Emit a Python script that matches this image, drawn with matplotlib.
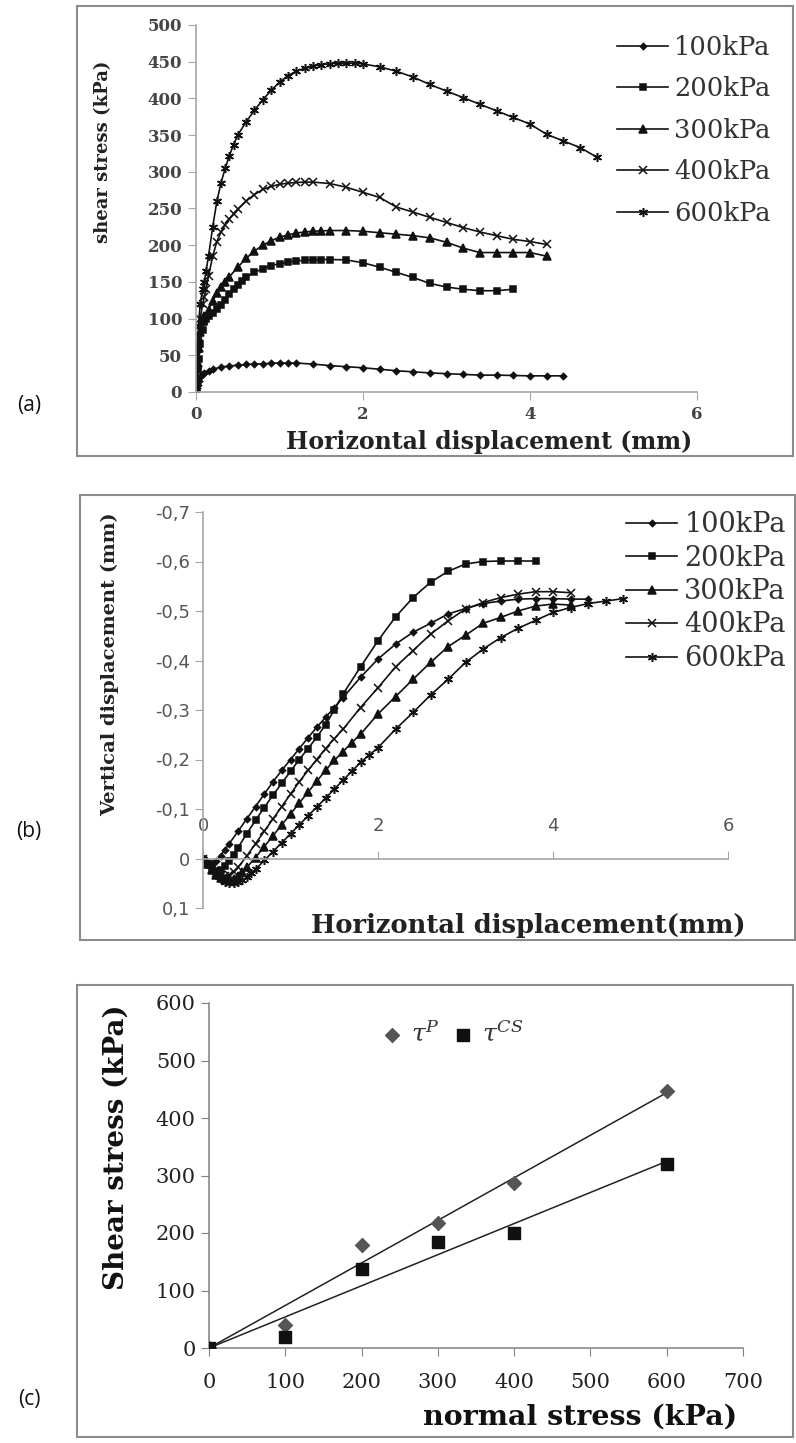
import numpy as np
import matplotlib
matplotlib.use('Agg')
import matplotlib.pyplot as plt
from matplotlib.patches import Rectangle
from matplotlib.ticker import FuncFormatter

# ==========================================
# DATOS
# ==========================================
PRESSURES = ['100kPa', '200kPa', '300kPa', '400kPa', '600kPa']

# (a) shear stress vs horizontal displacement
disp_a_100 = [0, 0.01, 0.02, 0.03, 0.05, 0.08, 0.1, 0.15, 0.2, 0.3, 0.4, 0.5, 0.6, 0.7, 0.8, 0.9, 1.0, 1.1, 1.2,
              1.4, 1.6, 1.8, 2.0, 2.2, 2.4, 2.6, 2.8, 3.0, 3.2, 3.4, 3.6, 3.8, 4.0, 4.2, 4.4]
shear_100 = [0, 5, 10, 15, 20, 24, 26, 29, 31, 34, 35.5, 36.5, 37.5, 38, 38.5, 39, 39.5, 39.5, 39.5,
             38, 36, 34.5, 33, 31, 29, 27.5, 26, 25, 24, 23, 23, 22.5, 22, 22, 22]
disp_a_200 = [0, 0.01, 0.02, 0.03, 0.05, 0.08, 0.1, 0.12, 0.15, 0.2, 0.25, 0.3, 0.35, 0.4, 0.45, 0.5, 0.55, 0.6,
              0.7, 0.8, 0.9, 1.0, 1.1, 1.2, 1.3, 1.4, 1.5, 1.6, 1.8, 2.0, 2.2, 2.4, 2.6, 2.8, 3.0, 3.2, 3.4, 3.6, 3.8]
shear_200 = [0, 15, 30, 45, 65, 85, 95, 100, 104, 108, 113, 119, 126, 133, 140, 146, 151, 156,
             163, 168, 172, 175, 177, 178.5, 179.5, 180, 180.5, 180.5, 180, 176, 170, 163, 156, 148, 143, 140, 138, 138, 140]
disp_a_300 = [0, 0.01, 0.02, 0.03, 0.05, 0.08, 0.1, 0.15, 0.2, 0.25, 0.3, 0.35, 0.4, 0.5, 0.6, 0.7, 0.8, 0.9, 1.0,
              1.1, 1.2, 1.3, 1.4, 1.5, 1.6, 1.8, 2.0, 2.2, 2.4, 2.6, 2.8, 3.0, 3.2, 3.4, 3.6, 3.8, 4.0, 4.2]
shear_300 = [0, 20, 40, 60, 82, 98, 104, 112, 124, 135, 143, 150, 157, 170, 182, 192, 200, 206, 211,
             214, 216.5, 218, 219, 219.5, 220, 220, 219, 217, 215, 213, 210, 204, 196, 190, 190, 190, 190, 185]
disp_a_400 = [0, 0.01, 0.02, 0.03, 0.05, 0.08, 0.1, 0.12, 0.15, 0.2, 0.25, 0.3, 0.35, 0.4, 0.45, 0.5, 0.6, 0.7, 0.8,
              0.9, 1.0, 1.1, 1.2, 1.3, 1.4, 1.6, 1.8, 2.0, 2.2, 2.4, 2.6, 2.8, 3.0, 3.2, 3.4, 3.6, 3.8, 4.0, 4.2]
shear_400 = [0, 25, 50, 75, 100, 120, 130, 140, 158, 185, 205, 218, 228, 236, 243, 249, 260, 269, 276,
             280, 283, 284.5, 285.5, 286, 286, 284, 279, 272, 265, 252, 245, 238, 231, 224, 218, 213, 208, 205, 201]
disp_a_600 = [0, 0.01, 0.02, 0.03, 0.05, 0.08, 0.1, 0.12, 0.15, 0.2, 0.25, 0.3, 0.35, 0.4, 0.45, 0.5, 0.6, 0.7, 0.8,
              0.9, 1.0, 1.1, 1.2, 1.3, 1.4, 1.5, 1.6, 1.7, 1.8, 1.9, 2.0, 2.2, 2.4, 2.6, 2.8, 3.0, 3.2, 3.4, 3.6, 3.8,
              4.0, 4.2, 4.4, 4.6, 4.8]
shear_600 = [0, 30, 60, 90, 120, 140, 150, 165, 185, 225, 260, 285, 305, 322, 337, 350, 368, 384, 398,
             411, 422, 431, 437, 441, 444, 446, 447, 448, 448, 448, 447, 443, 437, 429, 419, 410, 401, 392, 383, 374,
             365, 351, 342, 333, 320]

# (b) vertical vs horizontal displacement
disp_b_100 = [0, 0.05, 0.1, 0.15, 0.2, 0.25, 0.3, 0.4, 0.5, 0.6, 0.7, 0.8, 0.9, 1.0, 1.1, 1.2, 1.3, 1.4, 1.5, 1.6,
              1.8, 2.0, 2.2, 2.4, 2.6, 2.8, 3.0, 3.2, 3.4, 3.6, 3.8, 4.0, 4.2, 4.4]
vert_100 = [0, 0.008, 0.01, 0.005, -0.005, -0.018, -0.03, -0.055, -0.08, -0.105, -0.13, -0.155, -0.178, -0.2,
            -0.222, -0.244, -0.265, -0.285, -0.305, -0.325, -0.366, -0.403, -0.433, -0.457, -0.475, -0.494, -0.505,
            -0.515, -0.52, -0.524, -0.525, -0.525, -0.524, -0.524]
disp_b_200 = [0, 0.05, 0.1, 0.15, 0.2, 0.25, 0.3, 0.35, 0.4, 0.5, 0.6, 0.7, 0.8, 0.9, 1.0, 1.1, 1.2, 1.3, 1.4, 1.5,
              1.6, 1.8, 2.0, 2.2, 2.4, 2.6, 2.8, 3.0, 3.2, 3.4, 3.6, 3.8]
vert_200 = [0, 0.012, 0.022, 0.026, 0.024, 0.016, 0.005, -0.008, -0.022, -0.05, -0.077, -0.103, -0.128, -0.152,
            -0.176, -0.2, -0.222, -0.245, -0.27, -0.3, -0.332, -0.387, -0.44, -0.488, -0.527, -0.558, -0.58, -0.595,
            -0.6, -0.601, -0.601, -0.601]
disp_b_300 = [0, 0.05, 0.1, 0.15, 0.2, 0.25, 0.3, 0.35, 0.4, 0.45, 0.5, 0.6, 0.7, 0.8, 0.9, 1.0, 1.1, 1.2, 1.3, 1.4,
              1.5, 1.6, 1.7, 1.8, 2.0, 2.2, 2.4, 2.6, 2.8, 3.0, 3.2, 3.4, 3.6, 3.8, 4.0, 4.2]
vert_300 = [0, 0.012, 0.024, 0.033, 0.039, 0.042, 0.043, 0.041, 0.036, 0.028, 0.018, -0.002, -0.024, -0.046,
            -0.068, -0.09, -0.112, -0.134, -0.156, -0.178, -0.198, -0.216, -0.234, -0.251, -0.292, -0.327, -0.362,
            -0.396, -0.428, -0.451, -0.475, -0.487, -0.5, -0.51, -0.514, -0.512]
disp_b_400 = [0, 0.05, 0.1, 0.15, 0.2, 0.25, 0.3, 0.35, 0.4, 0.5, 0.6, 0.7, 0.8, 0.9, 1.0, 1.1, 1.2, 1.3, 1.4, 1.5,
              1.6, 1.8, 2.0, 2.2, 2.4, 2.6, 2.8, 3.0, 3.2, 3.4, 3.6, 3.8, 4.0, 4.2]
vert_400 = [0, 0.012, 0.022, 0.03, 0.034, 0.035, 0.033, 0.027, 0.018, -0.005, -0.03, -0.055, -0.08, -0.105,
            -0.13, -0.155, -0.178, -0.2, -0.222, -0.242, -0.261, -0.305, -0.345, -0.387, -0.42, -0.453, -0.48,
            -0.504, -0.517, -0.527, -0.534, -0.539, -0.539, -0.537]
disp_b_600 = [0, 0.05, 0.1, 0.15, 0.2, 0.25, 0.3, 0.35, 0.4, 0.45, 0.5, 0.55, 0.6, 0.7, 0.8, 0.9, 1.0, 1.1, 1.2,
              1.3, 1.4, 1.5, 1.6, 1.7, 1.8, 1.9, 2.0, 2.2, 2.4, 2.6, 2.8, 3.0, 3.2, 3.4, 3.6, 3.8, 4.0, 4.2, 4.4,
              4.6, 4.8]
vert_600 = [0, 0.012, 0.024, 0.034, 0.042, 0.047, 0.05, 0.05, 0.048, 0.044, 0.038, 0.03, 0.022, 0.004, -0.014,
            -0.032, -0.05, -0.068, -0.086, -0.104, -0.122, -0.14, -0.158, -0.176, -0.194, -0.209, -0.224, -0.261,
            -0.295, -0.33, -0.362, -0.396, -0.423, -0.446, -0.465, -0.481, -0.497, -0.507, -0.515, -0.52, -0.525]

# (c) failure envelopes
normal_stress = [0, 100, 200, 300, 400, 600]
tau_peak = [0, 40, 180, 218, 287, 447]
tau_cs = [0, 20, 138, 185, 200, 320]

# ==========================================
# ESTILO
# ==========================================
W, H = 796, 1443
plt.rcParams['font.family'] = 'DejaVu Serif'
plt.rcParams['mathtext.fontset'] = 'dejavuserif'

MARKERS = ['D', 's', '^', 'x', (6, 2, 0)]
MSIZE = [3.2, 4.5, 5.5, 5.5, 6.5]
AX_GRAY = '#a6a6a6'
BOX_GRAY = '#8c8c8c'


def px_rect(l, t, r, b):
    return [l / W, 1 - b / H, (r - l) / W, (b - t) / H]


def fx(x):
    return x / W


def fy(y):
    return 1 - y / H


fig = plt.figure(figsize=(W / 100, H / 100), dpi=100)
fig.patch.set_facecolor('white')

for (l, t, r, b) in [(77, 6, 793, 456), (80, 495, 795, 940), (77, 985, 793, 1437)]:
    fig.add_artist(Rectangle((fx(l), fy(b)), (r - l) / W, (b - t) / H, transform=fig.transFigure,
                             fill=False, ec=BOX_GRAY, lw=1.5))

for lbl, ypos in [('(a)', 405), ('(b)', 832), ('(c)', 1400)]:
    fig.text(fx(29), fy(ypos), lbl, ha='center', va='center', fontsize=15, family='Open Sans', color='#111')

# ---------- (a) ----------
ax_a = fig.add_axes(px_rect(196, 25, 697, 392))
series_a = [(disp_a_100, shear_100), (disp_a_200, shear_200), (disp_a_300, shear_300),
            (disp_a_400, shear_400), (disp_a_600, shear_600)]
handles_a = []
for i, (xs, ys) in enumerate(series_a):
    ln, = ax_a.plot(xs, ys, color='#111', lw=1.2, marker=MARKERS[i], ms=MSIZE[i], mew=1.1, label=PRESSURES[i])
    handles_a.append(ln)
ax_a.set_xlim(0, 6)
ax_a.set_ylim(0, 500)
ax_a.set_xticks([0, 2, 4, 6])
ax_a.set_yticks(np.arange(0, 501, 50))
for s in ['top', 'right']:
    ax_a.spines[s].set_visible(False)
for s in ['left', 'bottom']:
    ax_a.spines[s].set_color(AX_GRAY)
    ax_a.spines[s].set_linewidth(1.2)
ax_a.tick_params(direction='out', length=6, color=AX_GRAY, labelcolor='#444', labelsize=12, pad=4)
for t in ax_a.get_xticklabels() + ax_a.get_yticklabels():
    t.set_fontweight('bold')
ax_a.legend(handles=handles_a, loc='upper left', bbox_to_anchor=(fx(617), fy(35)), bbox_transform=fig.transFigure,
            frameon=False, borderpad=0, borderaxespad=0, handlelength=2.0, handletextpad=0.22,
            labelspacing=0.64, prop={'size': 18.5}, labelcolor='#333')
fig.text(fx(103), fy(152), 'shear stress (kPa)', rotation=90, ha='center', va='center',
         fontsize=13, fontweight='bold', color='#222')
fig.text(fx(489), fy(442), 'Horizontal displacement (mm)', ha='center', va='center',
         fontsize=17, fontweight='bold', color='#222')

# ---------- (b) ----------
ax_b = fig.add_axes(px_rect(203, 512, 728, 908))
series_b = [(disp_b_100, vert_100), (disp_b_200, vert_200), (disp_b_300, vert_300),
            (disp_b_400, vert_400), (disp_b_600, vert_600)]
handles_b = []
for i, (xs, ys) in enumerate(series_b):
    ln, = ax_b.plot(xs, ys, color='#111', lw=1.2, marker=MARKERS[i], ms=MSIZE[i], mew=1.1, label=PRESSURES[i])
    handles_b.append(ln)
ax_b.set_xlim(0, 6)
ax_b.set_ylim(0.1, -0.7)
ax_b.set_xticks([0, 2, 4, 6])
ax_b.set_yticks(np.round(np.arange(-0.7, 0.11, 0.1), 1))
ax_b.yaxis.set_major_formatter(FuncFormatter(lambda v, p: '0' if abs(v) < 1e-9 else f'{v:.1f}'.replace('.', ',')))
ax_b.spines['right'].set_visible(False)
ax_b.spines['bottom'].set_visible(False)
ax_b.spines['top'].set_position(('data', 0))
ax_b.xaxis.tick_top()
for s in ['left', 'top']:
    ax_b.spines[s].set_color(AX_GRAY)
    ax_b.spines[s].set_linewidth(1.2)
ax_b.tick_params(direction='out', length=6, color=AX_GRAY, labelcolor='#555', labelsize=13)
ax_b.tick_params(axis='x', pad=11)
for t in ax_b.get_xticklabels() + ax_b.get_yticklabels():
    t.set_family('DejaVu Sans')
ax_b.legend(handles=handles_b, loc='upper left', bbox_to_anchor=(fx(626), fy(511)), bbox_transform=fig.transFigure,
            frameon=False, borderpad=0, borderaxespad=0, handlelength=1.9, handletextpad=0.25,
            labelspacing=0.24, prop={'size': 19.5}, labelcolor='#333')
fig.text(fx(110), fy(664), 'Vertical displacement (mm)', rotation=90, ha='center', va='center',
         fontsize=14, fontweight='bold', color='#222')
fig.text(fx(528), fy(925), 'Horizontal displacement(mm)', ha='center', va='center',
         fontsize=18.5, fontweight='bold', color='#222')

# ---------- (c) ----------
ax_c = fig.add_axes(px_rect(209, 1003, 743, 1348))
ns = np.array(normal_stress, dtype=float)
fit_x = np.array([0, 600])
for ys in [tau_peak, tau_cs]:
    slope = np.dot(ns, ys) / np.dot(ns, ns)
    ax_c.plot(fit_x, slope * fit_x, color='#222', lw=1.1)
pk = ax_c.scatter(normal_stress, tau_peak, marker='D', s=50, color='#555', zorder=3)
cs = ax_c.scatter(normal_stress, tau_cs, marker='s', s=70, color='#111', zorder=3)
ax_c.set_xlim(0, 700)
ax_c.set_ylim(0, 600)
ax_c.set_xticks(np.arange(0, 701, 100))
ax_c.set_yticks(np.arange(0, 601, 100))
for s in ['top', 'right']:
    ax_c.spines[s].set_visible(False)
for s in ['left', 'bottom']:
    ax_c.spines[s].set_color('#808080')
    ax_c.spines[s].set_linewidth(1.1)
ax_c.tick_params(direction='out', length=6, color='#808080', labelcolor='#222', labelsize=15)
ax_c.tick_params(axis='x', pad=12)
ax_c.legend([pk, cs], [r'$\tau^{P}$', r'$\tau^{CS}$'], ncol=2, loc='center left',
            bbox_to_anchor=(fx(382), fy(1034)), bbox_transform=fig.transFigure, frameon=False,
            borderpad=0, borderaxespad=0, handlelength=0.8, handletextpad=0.35, columnspacing=0.55,
            prop={'size': 18}, labelcolor='#333', scatterpoints=1)
fig.text(fx(116), fy(1147), 'Shear stress (kPa)', rotation=90, ha='center', va='center',
         fontsize=20, fontweight='bold', color='#111')
fig.text(fx(580), fy(1417), 'normal stress (kPa)', ha='center', va='center',
         fontsize=20.5, fontweight='bold', color='#111')

fig.savefig('out.png', dpi=100, facecolor='white')
